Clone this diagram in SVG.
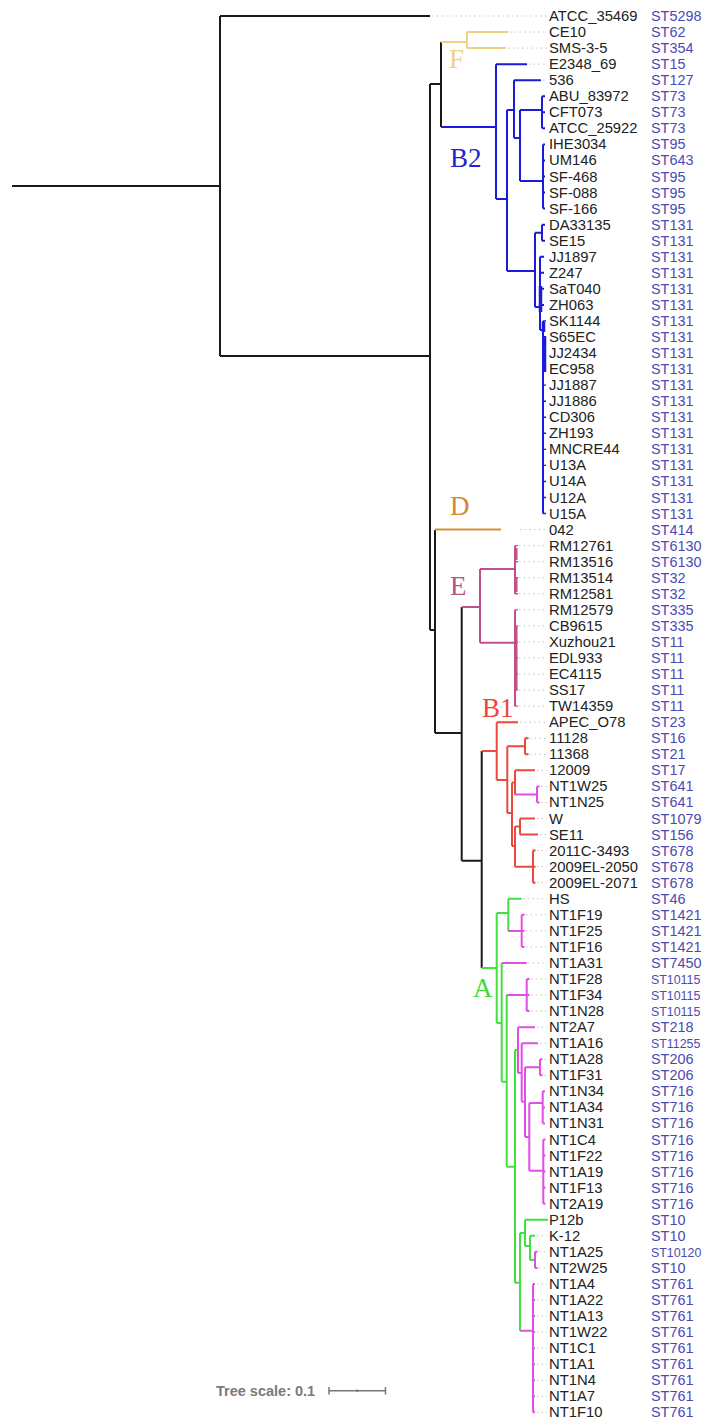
<svg xmlns="http://www.w3.org/2000/svg" width="703" height="1419" viewBox="0 0 703 1419">
<style>
.nm{font-family:"Liberation Sans",Arial,sans-serif;font-size:14.8px;fill:#222}
.st{font-family:"Liberation Sans",Arial,sans-serif;font-size:14.4px;fill:#4a4ab4}
.st7{font-size:12.4px}
.cl{font-family:"Liberation Serif","Times New Roman",serif;font-size:27px}
path{fill:none;stroke-width:2}
.k{stroke:#1a1a1a}
.f{stroke:#f0d184}
.b{stroke:#1c1cd8}
.d{stroke:#d4923a}
.e{stroke:#c0508a}
.r{stroke:#e84a3e}
.g{stroke:#3fe03f}
.m{stroke:#e24de6}
.ld{stroke:#c4c4c4;stroke-width:1;stroke-dasharray:1.5 3.2}
.sc{stroke:#777;stroke-width:1.5}
</style>
<rect width="703" height="1419" fill="#fff"/>
<g id="connectors">
<g id="leaders">
<path class="ld" d="M432,16H547M510,32.05H547M508,48.1H547M529,64.15H547M543,80.2H547M520,529.6H547M519,545.65H547M519,561.7H547M519,577.75H547M519,593.8H547M519,609.85H547M519,625.9H547M519,641.95H547M519,658H547M519,674.05H547M519,690.1H547M519,706.15H547M520,722.2H547M530,738.25H547M530,754.3H547M537,770.35H547M541,786.4H547M541,802.45H547M537,818.5H547M540,834.55H547M537,850.6H547M537,866.65H547M537,882.7H547M523,898.75H547M526,914.8H547M526,930.85H547M526,946.9H547M528,962.95H547M531,979H547M531,995.05H547M531,1011.1H547M537,1027.15H547M540,1043.2H547M544,1059.25H547M544,1075.3H547M537,1235.8H547M539,1251.85H547M539,1267.9H547M537,1283.95H547M537,1300H547M537,1316.05H547M537,1332.1H547M537,1348.15H547M537,1364.2H547M537,1380.25H547M537,1396.3H547M537,1412.35H547"/>
</g>
<g id="backbone">
<path class="k" d="M12,186H220M220,16V356M220,16H430M220,356H430M430,84V630M430,84H441M441,42V127M430,630H435M435,530V733M435,733H461.7M461.7,607V860.7M461.7,860.7H481.7M481.7,751V968"/>
</g>
<g id="clade-F">
<path class="f" d="M441,42H467M467,32.05V48.1M467,32.05H508M467,48.1H506"/>
</g>
<g id="clade-B2">
<path class="b" d="M441,127H496M496,64.15V199M496,64.15H527M496,199H507M507,110V271M507,110H514M514,80.2V138M514,80.2H541M514,138H520M520,110V181M520,110H542M542,96.25V128.35M542,96.25H545M542,112.3H545M542,128.35H545M520,181H543M543,144.4V208.6M543,144.4H545M543,160.45H545M543,176.5H545M543,192.55H545M543,208.6H545M507,271H535M535,232.7V307M535,232.7H542M542,224.65V240.7M542,224.65H545M542,240.7H545M535,307H540M540,256.75V330M540,256.75H544M540,272.8H544M540,288.85H544M540,304.9H544M540,330H543M543,320.95V513.55"/>
<path class="b" style="stroke-width:3.5" d="M540.5,286V312M543.5,322V332M544.5,336V372"/>
<path class="b" style="stroke-width:1.4" d="M543,320.95H546M543,337H546M543,353.05H546M543,369.1H546M543,385.15H546M543,401.2H546M543,417.25H546M543,433.3H546M543,449.35H546M543,465.4H546M543,481.45H546M543,497.5H546M543,513.55H546"/>
</g>
<g id="clade-D">
<path class="d" d="M435,529.6H501"/>
</g>
<g id="clade-E">
<path class="e" d="M461.7,607H480M480,569V642.7M480,569H515M480,642.7H515M515,545.65V593.8M515,609.85V706.15"/>
<path class="e" style="stroke-width:3" d="M516,548V560M516,578V592M516,626V690"/>
<path class="e" style="stroke-width:1.4" d="M515,545.65H518M515,561.7H518M515,577.75H518M515,593.8H518M515,609.85H518M515,625.9H518M515,641.95H518M515,658H518M515,674.05H518M515,690.1H518M515,706.15H518"/>
</g>
<g id="clade-B1">
<path class="r" d="M481.7,751H496.7M496.7,722.2V780M496.7,722.2H518M496.7,780H507.3M507.3,746.3V813M507.3,746.3H525M525,738.25V754.3M525,738.25H528.5M525,754.3H528.5M507.3,813H512M512,782.5V846M512,782.5H515M515,770.35V794.5M515,770.35H535M512,846H515M515,826.5V866.65M515,826.5H520M520,818.5V834.55M520,818.5H535M520,834.55H538M515,866.65H533M533,850.6V882.7M533,850.6H535.5M533,866.65H535.5M533,882.7H535.5"/>
<path class="m" d="M515,794.5H537M537,786.4V802.45M537,786.4H539.5M537,802.45H539.5"/>
</g>
<g id="clade-A">
<path class="g" d="M481.7,968H496.7M496.7,913V1023M496.7,913H508.3M508.3,898.75V931M508.3,898.75H521.7M496.7,1023H501.7M501.7,962.95V1081.7M501.7,1081.7H506.7M506.7,995.05V1166.7M506.7,1166.7H515M515,1050V1282.7M515,1050H518M515,1282.7H520M520,1233V1330.7M520,1233H525M525,1219.75V1246M525,1219.75H548M525,1246H530M530,1235.8V1260M530,1235.8H535M530,1260H535"/>
<path class="m" d="M508.3,931H521.7M521.7,914.8V946.9M521.7,914.8H524.5M521.7,930.85H524.5M521.7,946.9H524.5M501.7,962.95H526.7M506.7,995.05H526.7M526.7,979V1011.1M526.7,979H529.5M526.7,995.05H529.5M526.7,1011.1H529.5M518,1027.15V1073M518,1027.15H535M518,1073H521.7M521.7,1043.2V1101.7M521.7,1043.2H538M521.7,1101.7H525M525,1067.3V1137M525,1067.3H540M540,1059.25V1075.3M540,1059.25H542.5M540,1075.3H542.5M525,1137H529.3M529.3,1103V1170.7M529.3,1103H542.7M542.7,1091.35V1123.45M542.7,1091.35H545M542.7,1107.4H545M542.7,1123.45H545M529.3,1170.7H543.3M543.3,1139.5V1203.7M543.3,1139.5H545.5M543.3,1155.55H545.5M543.3,1171.6H545.5M543.3,1187.65H545.5M543.3,1203.7H545.5M535,1251.85V1267.9M535,1251.85H537.5M535,1267.9H537.5M520,1330.7H533M533,1283.95V1412.35M533,1283.95H535M533,1300H535M533,1316.05H535M533,1332.1H535M533,1348.15H535M533,1364.2H535M533,1380.25H535M533,1396.3H535M533,1412.35H535"/>
</g>
</g>
<g id="clade-labels">
<text class="cl" x="449" y="68" fill="#f0d184">F</text>
<text class="cl" x="450" y="167" fill="#2323d0">B2</text>
<text class="cl" x="450" y="515" fill="#d4892e">D</text>
<text class="cl" x="450" y="595" fill="#b6548a">E</text>
<text class="cl" x="482" y="717" fill="#e8483c">B1</text>
<text class="cl" x="473" y="997" fill="#3cdc3c">A</text>
</g>
<g id="leaves">
<g id="n01"><text class="nm" x="549" y="21">ATCC_35469</text><text class="st" x="651" y="21">ST5298</text></g>
<g id="n02"><text class="nm" x="549" y="37.05">CE10</text><text class="st" x="651" y="37.05">ST62</text></g>
<g id="n03"><text class="nm" x="549" y="53.1">SMS-3-5</text><text class="st" x="651" y="53.1">ST354</text></g>
<g id="n04"><text class="nm" x="549" y="69.15">E2348_69</text><text class="st" x="651" y="69.15">ST15</text></g>
<g id="n05"><text class="nm" x="549" y="85.2">536</text><text class="st" x="651" y="85.2">ST127</text></g>
<g id="n06"><text class="nm" x="549" y="101.25">ABU_83972</text><text class="st" x="651" y="101.25">ST73</text></g>
<g id="n07"><text class="nm" x="549" y="117.3">CFT073</text><text class="st" x="651" y="117.3">ST73</text></g>
<g id="n08"><text class="nm" x="549" y="133.35">ATCC_25922</text><text class="st" x="651" y="133.35">ST73</text></g>
<g id="n09"><text class="nm" x="549" y="149.4">IHE3034</text><text class="st" x="651" y="149.4">ST95</text></g>
<g id="n10"><text class="nm" x="549" y="165.45">UM146</text><text class="st" x="651" y="165.45">ST643</text></g>
<g id="n11"><text class="nm" x="549" y="181.5">SF-468</text><text class="st" x="651" y="181.5">ST95</text></g>
<g id="n12"><text class="nm" x="549" y="197.55">SF-088</text><text class="st" x="651" y="197.55">ST95</text></g>
<g id="n13"><text class="nm" x="549" y="213.6">SF-166</text><text class="st" x="651" y="213.6">ST95</text></g>
<g id="n14"><text class="nm" x="549" y="229.65">DA33135</text><text class="st" x="651" y="229.65">ST131</text></g>
<g id="n15"><text class="nm" x="549" y="245.7">SE15</text><text class="st" x="651" y="245.7">ST131</text></g>
<g id="n16"><text class="nm" x="549" y="261.75">JJ1897</text><text class="st" x="651" y="261.75">ST131</text></g>
<g id="n17"><text class="nm" x="549" y="277.8">Z247</text><text class="st" x="651" y="277.8">ST131</text></g>
<g id="n18"><text class="nm" x="549" y="293.85">SaT040</text><text class="st" x="651" y="293.85">ST131</text></g>
<g id="n19"><text class="nm" x="549" y="309.9">ZH063</text><text class="st" x="651" y="309.9">ST131</text></g>
<g id="n20"><text class="nm" x="549" y="325.95">SK1144</text><text class="st" x="651" y="325.95">ST131</text></g>
<g id="n21"><text class="nm" x="549" y="342">S65EC</text><text class="st" x="651" y="342">ST131</text></g>
<g id="n22"><text class="nm" x="549" y="358.05">JJ2434</text><text class="st" x="651" y="358.05">ST131</text></g>
<g id="n23"><text class="nm" x="549" y="374.1">EC958</text><text class="st" x="651" y="374.1">ST131</text></g>
<g id="n24"><text class="nm" x="549" y="390.15">JJ1887</text><text class="st" x="651" y="390.15">ST131</text></g>
<g id="n25"><text class="nm" x="549" y="406.2">JJ1886</text><text class="st" x="651" y="406.2">ST131</text></g>
<g id="n26"><text class="nm" x="549" y="422.25">CD306</text><text class="st" x="651" y="422.25">ST131</text></g>
<g id="n27"><text class="nm" x="549" y="438.3">ZH193</text><text class="st" x="651" y="438.3">ST131</text></g>
<g id="n28"><text class="nm" x="549" y="454.35">MNCRE44</text><text class="st" x="651" y="454.35">ST131</text></g>
<g id="n29"><text class="nm" x="549" y="470.4">U13A</text><text class="st" x="651" y="470.4">ST131</text></g>
<g id="n30"><text class="nm" x="549" y="486.45">U14A</text><text class="st" x="651" y="486.45">ST131</text></g>
<g id="n31"><text class="nm" x="549" y="502.5">U12A</text><text class="st" x="651" y="502.5">ST131</text></g>
<g id="n32"><text class="nm" x="549" y="518.55">U15A</text><text class="st" x="651" y="518.55">ST131</text></g>
<g id="n33"><text class="nm" x="549" y="534.6">042</text><text class="st" x="651" y="534.6">ST414</text></g>
<g id="n34"><text class="nm" x="549" y="550.65">RM12761</text><text class="st" x="651" y="550.65">ST6130</text></g>
<g id="n35"><text class="nm" x="549" y="566.7">RM13516</text><text class="st" x="651" y="566.7">ST6130</text></g>
<g id="n36"><text class="nm" x="549" y="582.75">RM13514</text><text class="st" x="651" y="582.75">ST32</text></g>
<g id="n37"><text class="nm" x="549" y="598.8">RM12581</text><text class="st" x="651" y="598.8">ST32</text></g>
<g id="n38"><text class="nm" x="549" y="614.85">RM12579</text><text class="st" x="651" y="614.85">ST335</text></g>
<g id="n39"><text class="nm" x="549" y="630.9">CB9615</text><text class="st" x="651" y="630.9">ST335</text></g>
<g id="n40"><text class="nm" x="549" y="646.95">Xuzhou21</text><text class="st" x="651" y="646.95">ST11</text></g>
<g id="n41"><text class="nm" x="549" y="663">EDL933</text><text class="st" x="651" y="663">ST11</text></g>
<g id="n42"><text class="nm" x="549" y="679.05">EC4115</text><text class="st" x="651" y="679.05">ST11</text></g>
<g id="n43"><text class="nm" x="549" y="695.1">SS17</text><text class="st" x="651" y="695.1">ST11</text></g>
<g id="n44"><text class="nm" x="549" y="711.15">TW14359</text><text class="st" x="651" y="711.15">ST11</text></g>
<g id="n45"><text class="nm" x="549" y="727.2">APEC_O78</text><text class="st" x="651" y="727.2">ST23</text></g>
<g id="n46"><text class="nm" x="549" y="743.25">11128</text><text class="st" x="651" y="743.25">ST16</text></g>
<g id="n47"><text class="nm" x="549" y="759.3">11368</text><text class="st" x="651" y="759.3">ST21</text></g>
<g id="n48"><text class="nm" x="549" y="775.35">12009</text><text class="st" x="651" y="775.35">ST17</text></g>
<g id="n49"><text class="nm" x="549" y="791.4">NT1W25</text><text class="st" x="651" y="791.4">ST641</text></g>
<g id="n50"><text class="nm" x="549" y="807.45">NT1N25</text><text class="st" x="651" y="807.45">ST641</text></g>
<g id="n51"><text class="nm" x="549" y="823.5">W</text><text class="st" x="651" y="823.5">ST1079</text></g>
<g id="n52"><text class="nm" x="549" y="839.55">SE11</text><text class="st" x="651" y="839.55">ST156</text></g>
<g id="n53"><text class="nm" x="549" y="855.6">2011C-3493</text><text class="st" x="651" y="855.6">ST678</text></g>
<g id="n54"><text class="nm" x="549" y="871.65">2009EL-2050</text><text class="st" x="651" y="871.65">ST678</text></g>
<g id="n55"><text class="nm" x="549" y="887.7">2009EL-2071</text><text class="st" x="651" y="887.7">ST678</text></g>
<g id="n56"><text class="nm" x="549" y="903.75">HS</text><text class="st" x="651" y="903.75">ST46</text></g>
<g id="n57"><text class="nm" x="549" y="919.8">NT1F19</text><text class="st" x="651" y="919.8">ST1421</text></g>
<g id="n58"><text class="nm" x="549" y="935.85">NT1F25</text><text class="st" x="651" y="935.85">ST1421</text></g>
<g id="n59"><text class="nm" x="549" y="951.9">NT1F16</text><text class="st" x="651" y="951.9">ST1421</text></g>
<g id="n60"><text class="nm" x="549" y="967.95">NT1A31</text><text class="st" x="651" y="967.95">ST7450</text></g>
<g id="n61"><text class="nm" x="549" y="984">NT1F28</text><text class="st st7" x="651" y="984">ST10115</text></g>
<g id="n62"><text class="nm" x="549" y="1000.05">NT1F34</text><text class="st st7" x="651" y="1000.05">ST10115</text></g>
<g id="n63"><text class="nm" x="549" y="1016.1">NT1N28</text><text class="st st7" x="651" y="1016.1">ST10115</text></g>
<g id="n64"><text class="nm" x="549" y="1032.15">NT2A7</text><text class="st" x="651" y="1032.15">ST218</text></g>
<g id="n65"><text class="nm" x="549" y="1048.2">NT1A16</text><text class="st st7" x="651" y="1048.2">ST11255</text></g>
<g id="n66"><text class="nm" x="549" y="1064.25">NT1A28</text><text class="st" x="651" y="1064.25">ST206</text></g>
<g id="n67"><text class="nm" x="549" y="1080.3">NT1F31</text><text class="st" x="651" y="1080.3">ST206</text></g>
<g id="n68"><text class="nm" x="549" y="1096.35">NT1N34</text><text class="st" x="651" y="1096.35">ST716</text></g>
<g id="n69"><text class="nm" x="549" y="1112.4">NT1A34</text><text class="st" x="651" y="1112.4">ST716</text></g>
<g id="n70"><text class="nm" x="549" y="1128.45">NT1N31</text><text class="st" x="651" y="1128.45">ST716</text></g>
<g id="n71"><text class="nm" x="549" y="1144.5">NT1C4</text><text class="st" x="651" y="1144.5">ST716</text></g>
<g id="n72"><text class="nm" x="549" y="1160.55">NT1F22</text><text class="st" x="651" y="1160.55">ST716</text></g>
<g id="n73"><text class="nm" x="549" y="1176.6">NT1A19</text><text class="st" x="651" y="1176.6">ST716</text></g>
<g id="n74"><text class="nm" x="549" y="1192.65">NT1F13</text><text class="st" x="651" y="1192.65">ST716</text></g>
<g id="n75"><text class="nm" x="549" y="1208.7">NT2A19</text><text class="st" x="651" y="1208.7">ST716</text></g>
<g id="n76"><text class="nm" x="549" y="1224.75">P12b</text><text class="st" x="651" y="1224.75">ST10</text></g>
<g id="n77"><text class="nm" x="549" y="1240.8">K-12</text><text class="st" x="651" y="1240.8">ST10</text></g>
<g id="n78"><text class="nm" x="549" y="1256.85">NT1A25</text><text class="st st7" x="651" y="1256.85">ST10120</text></g>
<g id="n79"><text class="nm" x="549" y="1272.9">NT2W25</text><text class="st" x="651" y="1272.9">ST10</text></g>
<g id="n80"><text class="nm" x="549" y="1288.95">NT1A4</text><text class="st" x="651" y="1288.95">ST761</text></g>
<g id="n81"><text class="nm" x="549" y="1305">NT1A22</text><text class="st" x="651" y="1305">ST761</text></g>
<g id="n82"><text class="nm" x="549" y="1321.05">NT1A13</text><text class="st" x="651" y="1321.05">ST761</text></g>
<g id="n83"><text class="nm" x="549" y="1337.1">NT1W22</text><text class="st" x="651" y="1337.1">ST761</text></g>
<g id="n84"><text class="nm" x="549" y="1353.15">NT1C1</text><text class="st" x="651" y="1353.15">ST761</text></g>
<g id="n85"><text class="nm" x="549" y="1369.2">NT1A1</text><text class="st" x="651" y="1369.2">ST761</text></g>
<g id="n86"><text class="nm" x="549" y="1385.25">NT1N4</text><text class="st" x="651" y="1385.25">ST761</text></g>
<g id="n87"><text class="nm" x="549" y="1401.3">NT1A7</text><text class="st" x="651" y="1401.3">ST761</text></g>
<g id="n88"><text class="nm" x="549" y="1417.35">NT1F10</text><text class="st" x="651" y="1417.35">ST761</text></g>
</g>
<g id="scale">
<text x="216" y="1395.5" font-family="'Liberation Sans',Arial,sans-serif" font-size="14.5px" font-weight="bold" fill="#7a7a7a">Tree scale: 0.1</text>
<path class="sc" d="M329,1390.7H385.5M329,1387V1394.5M385.5,1387V1394.5M357.3,1389.5V1392"/>
</g>
</svg>
